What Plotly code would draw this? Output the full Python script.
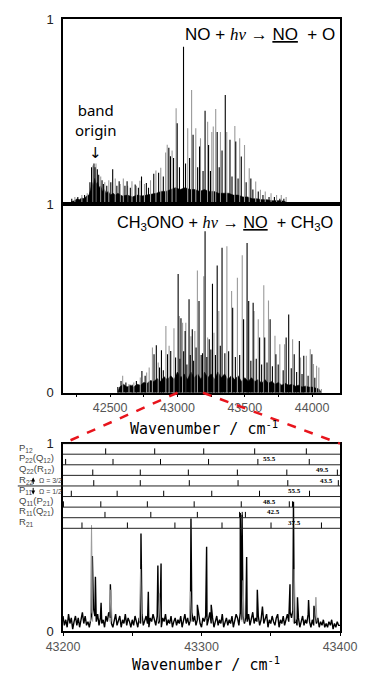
import plotly.graph_objects as go

# ---------------- DATA ----------------
# Panel 1: NO + hv -> NO + O  (stick spectrum, relative intensity)
p1_grey_x = [42238, 42290, 42330, 42372, 42395, 42430, 42460, 42490, 42538, 42575, 42598, 42630,
             42662, 42695, 42721, 42755, 42800, 42840, 42876, 42912, 42924, 42960, 42990, 43076,
             43105, 43136, 43171, 43224, 43255, 43266, 43284, 43319, 43366, 43426, 43462, 43498,
             43533, 43581, 43616, 43652, 43695, 43736, 43771, 43807]
p1_grey_h = [0.04, 0.05, 0.06, 0.21, 0.22, 0.15, 0.12, 0.13, 0.14, 0.11, 0.14, 0.10,
             0.125, 0.10, 0.128, 0.11, 0.13, 0.183, 0.197, 0.28, 0.322, 0.29, 0.518, 0.41,
             0.617, 0.41, 0.357, 0.446, 0.39, 0.42, 0.514, 0.39, 0.39, 0.423, 0.357, 0.32,
             0.195, 0.124, 0.079, 0.07, 0.06, 0.05, 0.05, 0.04]
p1_black_x = [42215, 42260, 42310, 42350, 42362, 42380, 42388, 42405, 42415, 42440, 42450, 42475,
              42505, 42519, 42550, 42567, 42610, 42626, 42650, 42686, 42710, 42733, 42769, 42785,
              42824, 42860, 42895, 42936, 42948, 42971, 42998, 43015, 43045, 43060, 43090, 43116,
              43150, 43164, 43190, 43205, 43231, 43245, 43295, 43310, 43331, 43355, 43390, 43405,
              43433, 43450, 43474, 43510, 43545, 43560, 43600, 43635, 43680, 43720, 43760, 43790]
p1_black_h = [0.03, 0.04, 0.05, 0.12, 0.20, 0.22, 0.20, 0.19, 0.16, 0.13, 0.11, 0.10,
              0.12, 0.19, 0.10, 0.125, 0.10, 0.125, 0.09, 0.107, 0.09, 0.15, 0.115, 0.09,
              0.165, 0.17, 0.15, 0.305, 0.26, 0.25, 0.437, 0.20, 0.85, 0.22, 0.25, 0.375,
              0.20, 0.312, 0.18, 0.505, 0.32, 0.18, 0.39, 0.20, 0.29, 0.59, 0.348, 0.15,
              0.339, 0.14, 0.258, 0.12, 0.14, 0.08, 0.07, 0.05, 0.04, 0.04, 0.03, 0.03]
p1_base_x = [42193, 42215, 42236, 42255, 42271, 42290, 42307, 42325, 42343, 42355, 42364, 42375,
             42386, 42397, 42407, 42418, 42429, 42443, 42457, 42470, 42486, 42503, 42521, 42540,
             42557, 42590, 42629, 42665, 42700, 42735, 42771, 42805, 42843, 42880, 42914, 42950,
             42986, 43020, 43057, 43093, 43129, 43165, 43200, 43235, 43271, 43305, 43343, 43380,
             43414, 43450, 43486, 43520, 43557, 43590, 43629, 43665, 43700, 43735, 43771, 43800, 43821]
p1_base_h = [0.0, 0.015, 0.02, 0.03, 0.025, 0.035, 0.03, 0.045, 0.05, 0.08, 0.12, 0.10,
             0.14, 0.11, 0.12, 0.09, 0.10, 0.07, 0.08, 0.06, 0.07, 0.05, 0.06, 0.05,
             0.06, 0.045, 0.05, 0.04, 0.05, 0.045, 0.05, 0.055, 0.06, 0.07, 0.07, 0.08,
             0.09, 0.08, 0.09, 0.08, 0.08, 0.07, 0.08, 0.07, 0.07, 0.06, 0.06, 0.06,
             0.05, 0.05, 0.04, 0.04, 0.03, 0.03, 0.025, 0.025, 0.02, 0.02, 0.02, 0.015, 0.0]

# Panel 2: CH3ONO + hv -> NO + CH3O
p2_grey_x = [42593, 42640, 42676, 42724, 42771, 42790, 42814, 42857, 42914, 42938, 42974, 43014,
             43038, 43062, 43100, 43129, 43148, 43195, 43224, 43271, 43307, 43367, 43402, 43445,
             43481, 43569, 43600, 43641, 43676, 43724, 43760, 43795, 43855, 43914, 43957, 43986,
             44010, 44033, 44050, 44069]
p2_grey_h = [0.09, 0.046, 0.055, 0.081, 0.108, 0.134, 0.24, 0.16, 0.354, 0.249, 0.342, 0.407,
             0.372, 0.372, 0.30, 0.328, 0.649, 0.619, 0.293, 0.319, 0.434, 0.778, 0.54, 0.61,
             0.73, 0.434, 0.39, 0.571, 0.49, 0.302, 0.257, 0.257, 0.284, 0.187, 0.196, 0.231,
             0.152, 0.143, 0.134, 0.02]
p2_black_x = [42557, 42581, 42617, 42664, 42695, 42736, 42760, 42826, 42843, 42867, 42881, 42895,
              42926, 42950, 42986, 43005, 43026, 43057, 43086, 43110, 43160, 43176, 43205, 43236,
              43260, 43295, 43331, 43410, 43491, 43517, 43529, 43562, 43610, 43648, 43688, 43731,
              43807, 43826, 43867, 43905, 43938, 43998,
              43018, 43046, 43070, 43095, 43120, 43138, 43186, 43218, 43248, 43282, 43318, 43352,
              43380, 43430, 43462, 43545, 43585, 43625, 43665, 43705, 43748, 43785, 43845, 43885,
              43925, 43970, 44020]
p2_black_h = [0.03, 0.063, 0.055, 0.042, 0.063, 0.116, 0.09, 0.205, 0.252, 0.134, 0.226, 0.12,
              0.205, 0.222, 0.187, 0.631, 0.395, 0.328, 0.496, 0.337, 0.487, 0.20, 0.857, 0.284,
              0.578, 0.675, 0.77, 0.451, 0.39, 0.795, 0.487, 0.478, 0.293, 0.293, 0.39, 0.205,
              0.293, 0.416, 0.205, 0.275, 0.196, 0.205,
              0.18, 0.22, 0.15, 0.2, 0.17, 0.24, 0.21, 0.19, 0.23, 0.2, 0.25, 0.21,
              0.22, 0.19, 0.2, 0.17, 0.18, 0.15, 0.16, 0.14, 0.15, 0.12, 0.13, 0.11,
              0.1, 0.09, 0.08]
p2_base_x = [42557, 42570, 42600, 42625, 42650, 42675, 42700, 42725, 42750, 42775, 42800, 42825,
             42850, 42875, 42900, 42925, 42950, 42975, 43000, 43025, 43050, 43075, 43100, 43125,
             43150, 43175, 43200, 43225, 43250, 43275, 43300, 43325, 43350, 43375, 43400, 43425,
             43450, 43475, 43500, 43525, 43550, 43575, 43600, 43625, 43650, 43675, 43700, 43725,
             43750, 43775, 43800, 43825, 43850, 43875, 43900, 43925, 43950, 43975, 44000, 44025,
             44050, 44070]
p2_base_h = [0.0, 0.03, 0.045, 0.03, 0.04, 0.03, 0.045, 0.04, 0.055, 0.05, 0.065, 0.06,
             0.075, 0.06, 0.085, 0.07, 0.09, 0.07, 0.11, 0.08, 0.10, 0.07, 0.11, 0.08,
             0.10, 0.07, 0.11, 0.08, 0.10, 0.07, 0.11, 0.08, 0.10, 0.07, 0.09, 0.07,
             0.09, 0.06, 0.08, 0.06, 0.08, 0.06, 0.07, 0.05, 0.07, 0.05, 0.06, 0.045,
             0.055, 0.04, 0.05, 0.04, 0.045, 0.035, 0.04, 0.03, 0.035, 0.03, 0.03, 0.025,
             0.02, 0.0]

# Panel 3: expanded region 43200-43400 cm-1
p3_base_x = list(range(43200, 43401))
p3_base_h = [0.08, 0.03, 0.06, 0.02, 0.09, 0.04, 0.07, 0.01, 0.05, 0.08,
             0.03, 0.07, 0.02, 0.06, 0.10, 0.04, 0.08, 0.03, 0.05, 0.02,
             0.06, 0.10, 0.12, 0.08, 0.05, 0.09, 0.03, 0.07, 0.04, 0.06,
             0.02, 0.08, 0.05, 0.10, 0.07, 0.04, 0.02, 0.06, 0.09, 0.03,
             0.05, 0.08, 0.02, 0.06, 0.04, 0.09, 0.03, 0.07, 0.05, 0.02,
             0.06, 0.03, 0.08, 0.05, 0.02, 0.07, 0.04, 0.09, 0.03, 0.06,
             0.08, 0.04, 0.02, 0.07, 0.05, 0.09, 0.06, 0.03, 0.08, 0.04,
             0.06, 0.02, 0.07, 0.05, 0.09, 0.03, 0.06, 0.04, 0.08, 0.02,
             0.05, 0.07, 0.03, 0.06, 0.04, 0.08, 0.02, 0.05, 0.09, 0.04,
             0.07, 0.03, 0.06, 0.10, 0.05, 0.08, 0.03, 0.06, 0.09, 0.04,
             0.02, 0.07, 0.05, 0.08, 0.03, 0.06, 0.10, 0.04, 0.07, 0.02,
             0.05, 0.08, 0.03, 0.06, 0.04, 0.09, 0.02, 0.05, 0.07, 0.03,
             0.06, 0.04, 0.08, 0.02, 0.05, 0.09, 0.07, 0.03, 0.10, 0.06,
             0.08, 0.04, 0.07, 0.05, 0.09, 0.03, 0.06, 0.10, 0.04, 0.07,
             0.05, 0.08, 0.03, 0.06, 0.11, 0.04, 0.07, 0.09, 0.02, 0.06,
             0.04, 0.08, 0.05, 0.03, 0.07, 0.09, 0.02, 0.06, 0.04, 0.08,
             0.03, 0.06, 0.09, 0.05, 0.10, 0.07, 0.11, 0.04, 0.06, 0.03,
             0.07, 0.02, 0.05, 0.08, 0.03, 0.06, 0.04, 0.09, 0.05, 0.02,
             0.06, 0.03, 0.08, 0.04, 0.07, 0.02, 0.05, 0.03, 0.06, 0.02,
             0.04, 0.02, 0.05, 0.03, 0.06, 0.01, 0.04, 0.02, 0.05, 0.03,
             0.03]
p3_peak_x = [43221.2, 43223.4, 43227.5, 43234.2, 43256.3, 43261.6, 43268.5, 43270.8, 43292.4,
             43297.0, 43303.7, 43307.0, 43328.0, 43329.3, 43332.6, 43340.3, 43344.0, 43363.9,
             43366.4, 43369.3, 43377.3, 43381.2]
p3_peak_h = [0.40, 0.29, 0.15, 0.25, 0.52, 0.21, 0.35, 0.36, 0.60,
             0.14, 0.45, 0.14, 0.63, 0.62, 0.395, 0.22, 0.13, 0.25,
             0.69, 0.18, 0.165, 0.135]
p3_grey_x = [43220.6, 43234.6, 43256.0, 43269.6, 43292.0, 43330.0, 43367.0, 43382.6]
p3_grey_h = [0.564, 0.22, 0.33, 0.20, 0.21, 0.27, 0.33, 0.18]

# Rotational branch assignments (line positions, cm-1)
branch_labels = ["P<sub>12</sub>", "P<sub>22</sub>(Q<sub>12</sub>)", "Q<sub>22</sub>(R<sub>12</sub>)",
                 "R<sub>22</sub>", "P<sub>11</sub>", "Q<sub>11</sub>(P<sub>21</sub>)",
                 "R<sub>11</sub>(Q<sub>21</sub>)", "R<sub>21</sub>"]
branch_lines = [
    [43230.8, 43266.2, 43301.6, 43338.4, 43375.7],
    [43201.9, 43236.1, 43270.4, 43305.1, 43340.7, 43377.8],
    [43221.5, 43255.8, 43290.5, 43325.9, 43361.6, 43398.1],
    [43222.2, 43255.8, 43291.2, 43326.4, 43362.3, 43398.8],
    [43206.0, 43239.1, 43272.7, 43307.4, 43341.9, 43378.0],
    [43200.3, 43227.3, 43260.9, 43294.7, 43328.7, 43363.4, 43365.7],
    [43230.3, 43263.4, 43297.0, 43327.5, 43329.4, 43331.7],
    [43213.7, 43246.5, 43280.8, 43314.8, 43350.2, 43386.6],
]
branch_J = ["61.5", "55.5", "49.5", "43.5", "55.5", "48.5", "42.5", "37.5"]
branch_J_x = [43401, 43349, 43387, 43390, 43367, 43349, 43352, 43367]

top_xticks = [42500, 43000, 43500, 44000]
zoom_xticks = [43200, 43300, 43400]

# ---------------- LAYOUT CONSTANTS ----------------
W, H = 369, 673
ML, MR, MT, MB = 63, 18, 17, 42
X_RANGE = [42150, 44207]
Z_RANGE = [43200, 43400]
D1 = [0.6971, 1.0]
D2 = [0.3893, 0.6971]
D3 = [0.0, 0.3062]
ROW_TOP = 1.0
ROW_H = 0.0565
GREY = "#9a9a9a"


def sticks(xs, hs):
    X, Y = [], []
    for x, h in zip(xs, hs):
        X += [x, x, None]
        Y += [0, h, None]
    return X, Y


fig = go.Figure()

# Panel 1
fig.add_trace(go.Scatter(x=p1_base_x, y=p1_base_h, mode="lines", fill="tozeroy",
                         fillcolor="black", line=dict(color="black", width=0.6),
                         xaxis="x", yaxis="y", hoverinfo="skip"))
gx, gy = sticks(p1_grey_x, p1_grey_h)
fig.add_trace(go.Scatter(x=gx, y=gy, mode="lines", line=dict(color=GREY, width=1.1),
                         xaxis="x", yaxis="y", hoverinfo="skip"))
bx, by = sticks(p1_black_x, p1_black_h)
fig.add_trace(go.Scatter(x=bx, y=by, mode="lines", line=dict(color="black", width=1.1),
                         xaxis="x", yaxis="y", hoverinfo="skip"))

# Panel 2
fig.add_trace(go.Scatter(x=p2_base_x, y=p2_base_h, mode="lines", fill="tozeroy",
                         fillcolor="black", line=dict(color="black", width=0.6),
                         xaxis="x2", yaxis="y2", hoverinfo="skip"))
gx, gy = sticks(p2_grey_x, p2_grey_h)
fig.add_trace(go.Scatter(x=gx, y=gy, mode="lines", line=dict(color=GREY, width=1.1),
                         xaxis="x2", yaxis="y2", hoverinfo="skip"))
bx, by = sticks(p2_black_x, p2_black_h)
fig.add_trace(go.Scatter(x=bx, y=by, mode="lines", line=dict(color="black", width=1.1),
                         xaxis="x2", yaxis="y2", hoverinfo="skip"))

# Panel 3 spectrum
pts = sorted(zip(p3_base_x + p3_peak_x, p3_base_h + p3_peak_h))
fig.add_trace(go.Scatter(x=[p[0] for p in pts], y=[p[1] for p in pts], mode="lines",
                         line=dict(color="black", width=1.4),
                         xaxis="x3", yaxis="y3", hoverinfo="skip"))
GX, GY = [], []
for x, h in zip(p3_grey_x, p3_grey_h):
    GX += [x - 0.8, x, x + 0.8, None]
    GY += [0.05, h, 0.05, None]
fig.add_trace(go.Scatter(x=GX, y=GY, mode="lines", line=dict(color=GREY, width=1),
                         xaxis="x3", yaxis="y3", hoverinfo="skip"))

# Branch ladders
TX, TY = [], []
for i, row in enumerate(branch_lines):
    yb = ROW_TOP - (i + 1) * ROW_H
    for x in row:
        TX += [x, x, None]
        TY += [yb, yb + 0.55 * ROW_H, None]
fig.add_trace(go.Scatter(x=TX, y=TY, mode="lines", line=dict(color="black", width=1),
                         xaxis="x3", yaxis="y3", hoverinfo="skip"))

shapes = []
for i in range(len(branch_lines) + 1):
    yv = ROW_TOP - i * ROW_H
    shapes.append(dict(type="line", xref="x3 domain", yref="y3", x0=0, x1=1, y0=yv, y1=yv,
                       line=dict(color="#222", width=1)))
plot_w = W - ML - MR
plot_h = H - MT - MB
def px2paper_x(px):
    return (px - ML) / plot_w
def px2paper_y(py):
    return (H - MB - py) / plot_h

# Omega separator line
ysep = ROW_TOP - 4 * ROW_H
shapes.append(dict(type="line", xref="paper", yref="y3", x0=px2paper_x(16), x1=0,
                   y0=ysep, y1=ysep, line=dict(color="#222", width=1)))

# Red dashed zoom connectors
def xp_top(v):
    return (v - X_RANGE[0]) / (X_RANGE[1] - X_RANGE[0])
def xp_zoom(v):
    return (v - Z_RANGE[0]) / (Z_RANGE[1] - Z_RANGE[0])
shapes.append(dict(type="line", xref="paper", yref="paper", x0=xp_top(43000), y0=D2[0],
                   x1=xp_zoom(43200), y1=D3[1], line=dict(color="#e8141c", width=2.5, dash="dash")))
shapes.append(dict(type="line", xref="paper", yref="paper", x0=xp_top(43190), y0=D2[0],
                   x1=xp_zoom(43400), y1=D3[1], line=dict(color="#e8141c", width=2.5, dash="dash")))

annotations = []
lab_font = dict(family="Liberation Sans", size=9.5, color="#444")
for i, lab in enumerate(branch_labels):
    yc = ROW_TOP - (i + 0.5) * ROW_H
    annotations.append(dict(text=lab, xref="paper", yref="y3", x=px2paper_x(15), y=yc,
                            xanchor="left", yanchor="middle", showarrow=False, font=lab_font,
                            yshift=1))
    annotations.append(dict(text="<b>%s</b>" % branch_J[i], xref="x3", yref="y3",
                            x=branch_J_x[i], y=yc, xanchor="center", yanchor="middle",
                            showarrow=False,
                            font=dict(family="Liberation Serif", size=7, color="black")))
# Omega labels with arrows
om_font = dict(family="Liberation Sans", size=7, color="#444")
annotations.append(dict(text="Ω = 3/2", xref="paper", yref="y3", x=px2paper_x(36),
                        y=ROW_TOP - 3.5 * ROW_H, xanchor="left", yanchor="middle",
                        showarrow=False, font=om_font))
annotations.append(dict(text="Ω = 1/2", xref="paper", yref="y3", x=px2paper_x(36),
                        y=ROW_TOP - 4.5 * ROW_H, xanchor="left", yanchor="middle",
                        showarrow=False, font=om_font))
annotations.append(dict(text="", xref="paper", yref="y3", x=px2paper_x(32), y=ysep + 0.045,
                        ax=0, ay=8, showarrow=True, arrowhead=2, arrowsize=0.8, arrowwidth=1,
                        arrowcolor="black"))
annotations.append(dict(text="", xref="paper", yref="y3", x=px2paper_x(32), y=ysep - 0.045,
                        ax=0, ay=-8, showarrow=True, arrowhead=2, arrowsize=0.8, arrowwidth=1,
                        arrowcolor="black"))

hv = '<span style="font-family:Liberation Serif"><i>hν</i></span>'
annotations.append(dict(text="NO + %s → <u>NO</u>  + O" % hv, xref="paper", yref="paper",
                        x=px2paper_x(188), y=px2paper_y(33), xanchor="left", yanchor="middle",
                        showarrow=False, font=dict(family="Liberation Sans", size=17, color="black")))
annotations.append(dict(text="CH<sub>3</sub>ONO + %s → <u>NO</u>  + CH<sub>3</sub>O" % hv,
                        xref="paper", yref="paper", x=px2paper_x(117), y=px2paper_y(222),
                        xanchor="left", yanchor="middle", showarrow=False,
                        font=dict(family="Liberation Sans", size=16.3, color="black")))
annotations.append(dict(text="band<br>origin", xref="paper", yref="paper",
                        x=px2paper_x(97), y=px2paper_y(118), xanchor="center", yanchor="middle",
                        showarrow=False, font=dict(family="Noto Sans", size=15, color="black")))
annotations.append(dict(text="↓", xref="paper", yref="paper",
                        x=px2paper_x(97), y=px2paper_y(151), xanchor="center", yanchor="middle",
                        showarrow=False, font=dict(family="DejaVu Sans", size=15, color="black")))
title_font = dict(family="DejaVu Sans Mono", size=15, color="black")
annotations.append(dict(text="Wavenumber / cm<sup>-1</sup>", xref="paper", yref="paper",
                        x=px2paper_x(210), y=px2paper_y(427), xanchor="center", yanchor="middle",
                        showarrow=False, font=title_font))
annotations.append(dict(text="Wavenumber / cm<sup>-1</sup>", xref="paper", yref="paper",
                        x=px2paper_x(212), y=px2paper_y(664), xanchor="center", yanchor="middle",
                        showarrow=False, font=title_font))

axis_common = dict(showline=True, linecolor="black", linewidth=1.5, mirror=True,
                   showgrid=False, zeroline=False)
ytick_font = dict(family="Liberation Sans", size=13, color="#222")
xtick_font = dict(family="Liberation Sans", size=12.5, color="#555")

fig.update_layout(
    width=W, height=H, margin=dict(l=ML, r=MR, t=MT, b=MB),
    paper_bgcolor="white", plot_bgcolor="white", showlegend=False,
    xaxis=dict(domain=[0, 1], anchor="y", range=X_RANGE, showticklabels=False, ticks="",
               **axis_common),
    yaxis=dict(domain=D1, anchor="x", range=[0, 1], tickvals=[1], ticktext=["1"], ticks="",
               ticklabelstandoff=5, tickfont=ytick_font, **axis_common),
    xaxis2=dict(domain=[0, 1], anchor="y2", range=X_RANGE, tickvals=top_xticks,
                ticktext=[str(v) for v in top_xticks],
                ticks="outside", ticklen=3, tickcolor="black", tickfont=xtick_font,
                minor=dict(dtick=250, tick0=42500, ticks="outside", ticklen=3, tickcolor="black"),
                **axis_common),
    yaxis2=dict(domain=D2, anchor="x2", range=[0, 1], tickvals=[0, 1], ticktext=["0", "1"],
                ticks="", ticklabelstandoff=5, tickfont=ytick_font, **axis_common),
    xaxis3=dict(domain=[0, 1], anchor="y3", range=Z_RANGE, tickvals=zoom_xticks,
                ticktext=[str(v) for v in zoom_xticks],
                ticks="outside", ticklen=3, tickcolor="black", tickfont=xtick_font,
                minor=dict(dtick=50, tick0=43200, ticks="outside", ticklen=3, tickcolor="black"),
                **axis_common),
    yaxis3=dict(domain=D3, anchor="x3", range=[0, 1], tickvals=[0, 1], ticktext=["0", "1"],
                ticks="", ticklabelstandoff=5, tickfont=ytick_font, **axis_common),
    shapes=shapes, annotations=annotations,
)

fig.write_html("out.html")
